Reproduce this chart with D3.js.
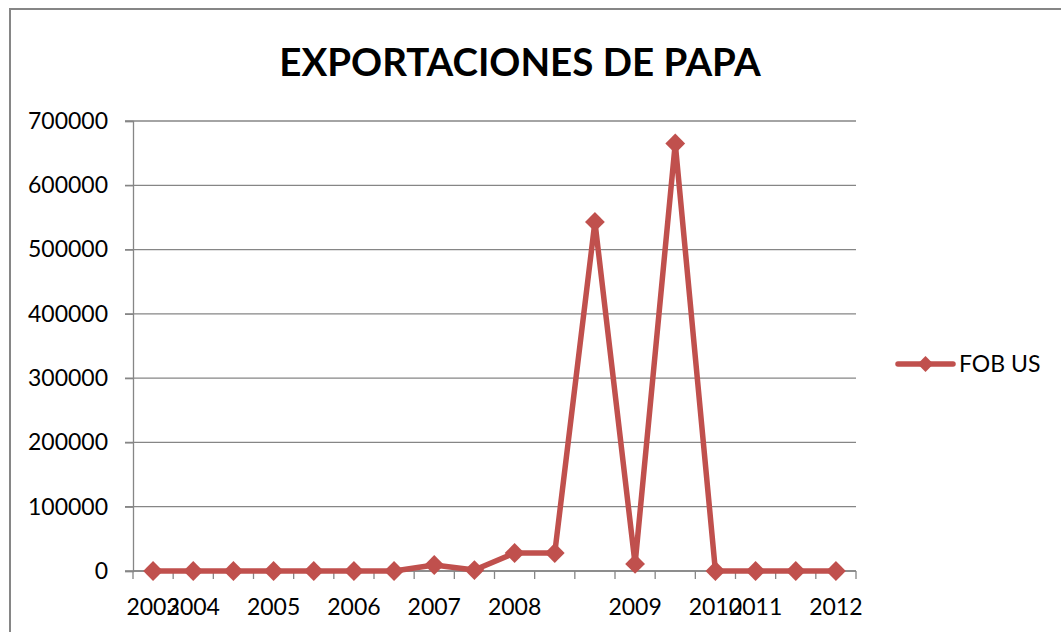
<!DOCTYPE html>
<html>
<head>
<meta charset="utf-8">
<script src="https://cdn.jsdelivr.net/npm/d3@7"></script>
<style>
  body { margin: 0; background: #fff; }
  text { font-family: Lato, "Open Sans", sans-serif; fill: #000; }
</style>
</head>
<body>
<div id="chart-area"></div>
<script>
// categories (one per data point), many have no label
var periodos = ["2003","2004","","2005","","2006","","2007","","2008","","","2009","","2010","2011","","2012"];
var fobUS = [0, 0, 0, 0, 0, 0, 0, 9300, 1500, 28000, 28000, 543000, 11000, 665000, 0, 0, 0, 0];
var yTicks = [0, 100000, 200000, 300000, 400000, 500000, 600000, 700000];
var serieNombre = "FOB US";

var W = 1061, H = 632;
var rojo = "#C0504D";
var gris = "#868686";

var svg = d3.select("#chart-area").append("svg")
	.attr("width", W)
	.attr("height", H);

// chart border
svg.append("rect")
	.attr("x", 10)
	.attr("y", 9)
	.attr("width", W + 20)
	.attr("height", H + 20)
	.attr("fill", "none")
	.attr("stroke", gris)
	.attr("stroke-width", 2);

var x = d3.scaleBand()
	.domain(d3.range(periodos.length))
	.range([133, 856]);

var y = d3.scaleLinear()
	.domain([0, 700000])
	.range([571, 121]);

// gridlines
svg.append("g")
	.selectAll("line")
	.data(yTicks)
	.enter().append("line")
	.attr("x1", 125)
	.attr("x2", 856)
	.attr("y1", (d) => { return y(d); })
	.attr("y2", (d) => { return y(d); })
	.attr("stroke", gris)
	.attr("stroke-width", 1.3);

// y axis
var left = d3.axisLeft(y)
	.tickValues(yTicks)
	.tickSize(8)
	.tickPadding(17)
	.tickFormat(d3.format("d"));

var y_group = svg.append("g")
	.attr("transform", "translate(133, 0)")
	.call(left);
y_group.selectAll("path, line").attr("stroke", gris).attr("stroke-width", 1.3);
y_group.selectAll("text")
	.attr("font-size", "23px")
	.attr("font-family", "Lato, 'Open Sans', sans-serif");

// x axis: ticks on category boundaries
svg.append("line")
	.attr("x1", 133).attr("x2", 856)
	.attr("y1", y(0)).attr("y2", y(0))
	.attr("stroke", gris).attr("stroke-width", 1.3);

svg.append("g")
	.selectAll("line")
	.data(d3.range(periodos.length + 1))
	.enter().append("line")
	.attr("x1", (i) => { return 133 + i * x.step(); })
	.attr("x2", (i) => { return 133 + i * x.step(); })
	.attr("y1", y(0))
	.attr("y2", y(0) + 8)
	.attr("stroke", gris)
	.attr("stroke-width", 1.3);

svg.append("g")
	.selectAll("text")
	.data(periodos)
	.enter().append("text")
	.attr("x", (d, i) => { return x(i) + x.bandwidth() / 2; })
	.attr("y", 615)
	.attr("text-anchor", "middle")
	.attr("font-size", "23px")
	.text((d) => { return d; });

// line + markers
var line = d3.line()
	.x((d, i) => { return x(i) + x.bandwidth() / 2; })
	.y((d) => { return y(d); });

svg.append("path")
	.datum(fobUS)
	.attr("d", line)
	.attr("fill", "none")
	.attr("stroke", rojo)
	.attr("stroke-width", 5.5)
	.attr("stroke-linejoin", "round");

var diamond = d3.symbol().type(d3.symbolDiamond2).size(250);

svg.append("g")
	.selectAll("path")
	.data(fobUS)
	.enter().append("path")
	.attr("d", diamond)
	.attr("transform", (d, i) => { return "translate(" + (x(i) + x.bandwidth() / 2) + "," + y(d) + ")"; })
	.attr("fill", rojo);

// legend
var legend = svg.append("g")
	.attr("transform", "translate(898, 364)");

legend.append("line")
	.attr("x1", 0).attr("x2", 55)
	.attr("stroke", rojo)
	.attr("stroke-width", 5.5)
	.attr("stroke-linecap", "round");

legend.append("path")
	.attr("d", d3.symbol().type(d3.symbolDiamond2).size(160))
	.attr("transform", "translate(27.5,0)")
	.attr("fill", rojo);

legend.append("text")
	.attr("x", 61)
	.attr("y", 8)
	.attr("font-size", "23px")
	.text(serieNombre);

// title
svg.append("text")
	.attr("x", 520)
	.attr("y", 76)
	.attr("text-anchor", "middle")
	.attr("font-size", "38.5px")
	.attr("font-weight", "bold")
	.text("EXPORTACIONES DE PAPA");
</script>
</body>
</html>
